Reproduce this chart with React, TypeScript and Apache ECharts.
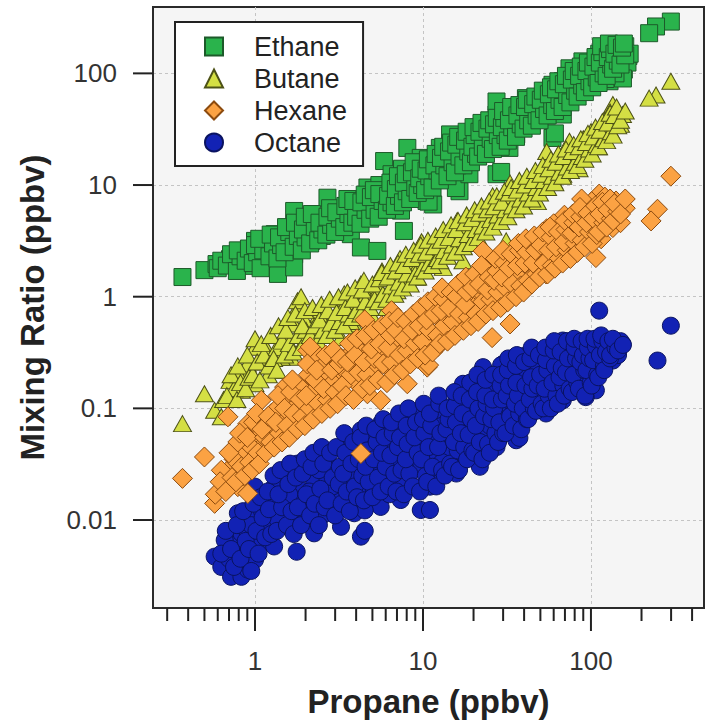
import React, { useEffect, useRef } from 'react';
import * as echarts from 'echarts';

const xMin = 0.247;
const xMax = 471;
const yMin = 0.00163;
const yMax = 393;

const xMajorTicks = [1, 10, 100];
const xMinorTicks = [0.3, 0.4, 0.5, 0.6, 0.7, 0.8, 0.9, 2, 3, 4, 5, 6, 7, 8, 9, 20, 30, 40, 50, 60, 70, 80, 90, 200, 300, 400];
const yMajorTicks = [0.01, 0.1, 1, 10, 100];

const seriesNames = ['Ethane', 'Butane', 'Hexane', 'Octane'];

const ethane = [
  [0.37, 1.5], [0.5, 1.73], [0.59, 1.96], [0.71, 2.17], [0.91, 1.89], [1.0, 3.16], [1.28, 1.96], [1.37, 1.6],
  [1.71, 2.4], [1.71, 4.16], [1.71, 5.86], [1.31, 3.63], [1.71, 1.83], [2.15, 3.16], [2.36, 5.1], [2.83, 4.16],
  [2.7, 7.7], [3.25, 5.47], [3.9, 6.3], [3.72, 3.63], [4.67, 9.5], [4.27, 2.76], [5.35, 2.57], [5.6, 6.3],
  [5.87, 16.4], [6.7, 11.6], [6.1, 7.7], [8.07, 21.5], [8.07, 13.3], [7.7, 3.88], [7.37, 9.5], [9.7, 17.5],
  [10.5, 7.2], [10.5, 10.9],
  [299, 291], [244, 263], [222, 229], [141, 157], [158, 152], [154, 104], [129, 180], [107, 137], [129, 85],
  [74.5, 111], [89, 128], [68, 85], [59, 79], [68, 42.8], [54, 69], [41, 60], [47, 46], [59, 26.4], [34, 46],
  [27.4, 42.8], [27.4, 56], [21.8, 32.5], [19, 26.4], [14.5, 28.4], [17.3, 21.5], [12.6, 21.5], [13.8, 14.3],
  [27.4, 12.5], [16.5, 8.8], [11.5, 6.7], [32.7, 21.5], [35.9, 28.4],
  [7.4, 5.9], [10.8, 7.1], [15.7, 9.4], [18.9, 12.5], [12.2, 12.5], [15.7, 16.6], [22.7, 20], [29.2, 24],
  [29.2, 13.1], [17.7, 26.4], [35, 29], [54.5, 42], [61, 29], [65.7, 61], [84, 81], [122, 89], [138, 130],
  [167, 143], [157, 108],
  [0.8, 2.0], [0.95, 2.4], [1.1, 2.2], [1.2, 2.8], [1.45, 2.6], [1.55, 3.2], [1.9, 3.0], [2.0, 4.5], [2.2, 3.8],
  [2.5, 3.5], [2.6, 4.8], [3.0, 4.5], [3.1, 6.0], [3.5, 5.0], [3.6, 7.0], [4.2, 5.5], [4.5, 7.5], [5.0, 6.5],
  [5.2, 8.5], [5.5, 10], [6.3, 9.0], [6.5, 12.5], [7.0, 10.5], [7.5, 14], [8.5, 11], [9.0, 15], [9.5, 12.5],
  [10, 14], [11, 16], [11, 11], [12, 18], [13, 13], [14, 19], [15, 22], [16, 15], [18, 18], [19, 21], [20, 24],
  [22, 27], [24, 23], [25, 30], [26, 34], [28, 30], [30, 36], [32, 40], [38, 38], [40, 48], [44, 42], [45, 55],
  [50, 52], [52, 62], [58, 56], [63, 70], [66, 50], [72, 78], [78, 88], [82, 70], [90, 100], [95, 115], [100, 95],
  [105, 120], [112, 150], [115, 130], [120, 160], [125, 110], [132, 145], [140, 170], [145, 125], [150, 160],
  [160, 175], [165, 125], [170, 150], [155, 90], [140, 100],
  [0.6, 1.8], [0.63, 2.1], [0.68, 1.9], [0.72, 2.4], [0.78, 1.7], [0.82, 2.3], [0.79, 2.6], [0.88, 2.1], [0.92, 2.7],
  [0.97, 2.0], [1.03, 2.5], [1.0, 2.9], [1.08, 1.8], [1.12, 2.6], [1.06, 3.3], [1.22, 2.3], [1.28, 3.0], [1.24, 3.6],
  [1.36, 2.2], [1.43, 2.9], [1.39, 3.4], [1.5, 2.5], [1.6, 3.8], [1.53, 4.2], [1.7, 2.8], [1.8, 3.5], [1.73, 4.6],
  [1.9, 2.6], [2.0, 3.4], [1.93, 4.0], [1.98, 5.2], [2.13, 3.0], [2.27, 4.2], [2.18, 5.5], [2.38, 3.2], [2.52, 4.0],
  [2.42, 4.6], [2.66, 3.6], [2.84, 4.4], [2.7, 5.2], [2.8, 6.2], [3.0, 3.8], [3.2, 5.0], [3.05, 5.7], [3.4, 4.2],
  [3.6, 5.5], [3.45, 6.5], [3.55, 7.5], [3.8, 4.6], [4.0, 5.2], [3.85, 7.2], [4.25, 4.5], [4.55, 6.0], [4.3, 7.0],
  [4.5, 8.2], [4.85, 5.0], [5.15, 6.0], [4.9, 7.8], [5.1, 9.0], [5.45, 5.2], [5.75, 7.2], [5.5, 8.3], [6.1, 6.0],
  [6.5, 7.0], [6.2, 8.0], [6.4, 10.5], [6.8, 6.5], [7.2, 8.0], [6.9, 9.2], [7.1, 12], [7.6, 7.0], [8.0, 8.8],
  [7.7, 10.5], [7.9, 12.5], [8.4, 7.5], [9.0, 9.5], [8.6, 13], [8.8, 16], [9.3, 8.5], [9.9, 10], [9.5, 11.5],
  [9.7, 14], [10.3, 9.0], [10.9, 12], [10.5, 13.5], [10.7, 17], [11.4, 9.5], [12.2, 13.5], [11.7, 15], [11.9, 19],
  [12.6, 11], [13.4, 15], [12.8, 17.5], [13.2, 22], [14.0, 12], [15.0, 16], [14.3, 20], [14.7, 24], [15.5, 13],
  [16.5, 18], [15.8, 23], [16.2, 27], [17.4, 15], [18.6, 20], [17.8, 25], [18.2, 30], [19.3, 16], [20.7, 19],
  [19.7, 22], [20.3, 28], [20, 33], [21.3, 18], [22.7, 22], [21.7, 30], [22.3, 36], [23.7, 19], [25.3, 26],
  [24.2, 32], [24.8, 38], [26.1, 21], [27.9, 28], [26.5, 35], [27.5, 40], [29, 22], [31, 28], [29.5, 33],
  [30.5, 40], [30, 46], [32, 25], [34, 33], [32.5, 38], [33.5, 50], [35.8, 27], [38.2, 35], [36.5, 42],
  [37.5, 52], [39.7, 32], [42.3, 38], [40.5, 50], [41.5, 58], [44.5, 34], [47.5, 42], [45.3, 53], [46.7, 62],
  [49.4, 38], [52.6, 48], [50.3, 58], [51.7, 70], [55.2, 42], [58.8, 52], [56.2, 65], [57.8, 75], [61, 46],
  [65, 58], [62, 72], [64, 85], [67.8, 50], [72.2, 64], [69, 80], [71, 95], [75.5, 55], [80.5, 70], [77, 88],
  [79, 105], [83.3, 62], [88.7, 78], [85, 95], [87, 115], [92, 68], [98, 85], [94, 105], [96, 125], [101.7, 75],
  [108.3, 92], [103.5, 115], [106.5, 140], [111, 82], [119, 100], [113, 125], [117, 155], [115, 175], [124, 95],
  [132, 120], [126, 140], [130, 165], [128, 185], [135.5, 110], [144.5, 130], [138, 150], [142, 180], [150, 120],
  [160, 145], [153, 170], [157, 185],
];

const butane = [
  [0.37, 0.073], [0.5, 0.135], [0.71, 0.178], [0.575, 0.096], [0.63, 0.084], [1.0, 0.353], [1.19, 0.33],
  [0.91, 0.204], [0.83, 0.145], [1.0, 0.166], [1.3, 0.218], [1.64, 0.287], [1.71, 0.57], [1.79, 0.8], [2.15, 0.5],
  [2.58, 0.61], [3.25, 0.43], [3.9, 0.57], [3.25, 0.8], [4.9, 0.7], [6.1, 0.8], [1.43, 0.287], [1.71, 0.178],
  [1.97, 0.405],
  [1.79, 0.92], [3.4, 1.06], [4.27, 1.3], [5.87, 1.49], [8.07, 2.1], [10.6, 2.76], [9.2, 1.49], [7.0, 1.13],
  [299, 85], [244, 64], [222, 60], [135, 52.7], [154, 42.8], [141, 34.8], [117, 32.5], [102, 24.7], [81.7, 20],
  [68, 17.5], [54, 12.5], [43, 10.9], [35.9, 8.8], [27.4, 6.7], [22.8, 4.77], [19, 3.88], [15.1, 3.63],
  [12.6, 2.76], [31.3, 3.16], [17.3, 2.1], [13.2, 1.83], [34.4, 6.7], [47, 7.2], [74.5, 24.7], [68, 12.5],
  [1.88, 1.0], [5.1, 1.09], [10.1, 2.31], [15.7, 3.36], [21.4, 5.37], [33, 10.4], [54.5, 20], [48, 7.1],
  [0.65, 0.12], [0.75, 0.15], [0.8, 0.2], [0.9, 0.25], [1.1, 0.26], [1.2, 0.2], [1.35, 0.35], [1.5, 0.42],
  [1.6, 0.33], [2.0, 0.6], [2.2, 0.4], [2.4, 0.7], [2.8, 0.5], [3.0, 0.68], [3.5, 0.9], [3.7, 0.6], [4.2, 0.85],
  [4.6, 1.05], [5.5, 1.2], [6.5, 1.1], [7.5, 1.5], [8.5, 1.8], [9.5, 2.0], [11, 2.3], [12, 3.2], [13.5, 2.5],
  [14, 3.8], [16, 3.0], [18, 4.3], [20, 3.5], [21, 4.5], [24, 5.8], [25, 4.6], [28, 5.5], [30, 7.5], [33, 8.0],
  [36, 6.5], [38, 10], [42, 9], [45, 12], [50, 10], [52, 14], [58, 15], [60, 11], [63, 18], [70, 15], [75, 20],
  [80, 18], [88, 22], [90, 26], [95, 20], [110, 28], [120, 38], [125, 30], [130, 45], [145, 40], [150, 35],
  [100, 30], [110, 22], [85, 14], [26, 8], [16, 4.8], [9.8, 3.1], [7.3, 2.2], [5.7, 1.7],
  [0.68, 0.13], [0.72, 0.2], [0.78, 0.12], [0.82, 0.17], [0.79, 0.24], [0.88, 0.15], [0.92, 0.19], [0.9, 0.3],
  [0.97, 0.2], [1.03, 0.26], [1.0, 0.42], [1.07, 0.18], [1.13, 0.3], [1.09, 0.38], [1.21, 0.24], [1.29, 0.28],
  [1.24, 0.45], [1.35, 0.22], [1.45, 0.4], [1.38, 0.55], [1.5, 0.3], [1.6, 0.38], [1.53, 0.5], [1.57, 0.65],
  [1.69, 0.32], [1.81, 0.45], [1.74, 0.7], [1.89, 0.35], [2.01, 0.5], [1.92, 0.55], [1.98, 0.75], [2.13, 0.45],
  [2.27, 0.55], [2.2, 0.8], [2.37, 0.4], [2.53, 0.5], [2.42, 0.62], [2.48, 0.85], [2.66, 0.45], [2.84, 0.58],
  [2.72, 0.75], [2.78, 0.95], [3.0, 0.5], [3.2, 0.6], [3.06, 0.72], [3.14, 1.0], [3.39, 0.55], [3.61, 0.7],
  [3.45, 0.8], [3.55, 1.1], [3.78, 0.65], [4.02, 0.75], [3.85, 0.95], [3.95, 1.2], [4.26, 0.7], [4.54, 0.9],
  [4.35, 1.15], [4.45, 1.4], [4.85, 0.8], [5.15, 0.95], [5.0, 1.3], [5.43, 0.9], [5.77, 1.05], [5.52, 1.45],
  [5.68, 1.65], [6.1, 0.95], [6.5, 1.25], [6.2, 1.5], [6.4, 1.9], [6.8, 1.05], [7.2, 1.35], [6.9, 1.7], [7.1, 2.0],
  [7.55, 1.2], [8.05, 1.6], [7.7, 1.9], [7.9, 2.4], [8.4, 1.3], [9.0, 1.6], [8.6, 2.2], [8.8, 2.6], [9.3, 1.5],
  [9.9, 1.8], [9.5, 2.4], [9.7, 2.9], [10.3, 1.7], [10.9, 2.0], [10.5, 2.5], [10.7, 3.2], [11.4, 1.9], [12.2, 2.2],
  [11.7, 2.8], [11.9, 3.5], [12.6, 2.1], [13.4, 2.6], [12.8, 3.2], [13.2, 4.0], [14.0, 2.3], [15.0, 2.9],
  [14.3, 3.4], [14.7, 4.4], [15.5, 2.5], [16.5, 3.3], [15.8, 4.0], [16.2, 4.8], [17.4, 2.8], [18.6, 3.6],
  [17.8, 4.6], [18.2, 5.4], [19.3, 3.0], [20.7, 4.0], [19.7, 5.0], [20.3, 6.0], [21.3, 3.4], [22.7, 4.3],
  [21.7, 5.6], [22.3, 6.5], [23.7, 3.8], [25.3, 4.9], [24.2, 6.0], [24.8, 7.2], [26.1, 4.2], [27.9, 5.4],
  [26.5, 6.4], [27.5, 8.0], [29, 4.7], [31, 6.0], [29.5, 7.0], [30.5, 8.8], [32, 5.2], [34, 6.5], [32.5, 8.5],
  [33.5, 9.5], [35.8, 6.0], [38.2, 7.5], [36.5, 9.0], [37.5, 11], [39.7, 6.5], [42.3, 8.5], [40.5, 10],
  [41.5, 12], [44.5, 7.5], [47.5, 9.5], [45.3, 11], [46.7, 13.5], [49.4, 8.5], [52.6, 11], [50.3, 12.5],
  [51.7, 15], [55.2, 9.5], [58.8, 12], [56.2, 14], [57.8, 17], [61, 10.5], [65, 13], [62, 16], [64, 19],
  [67.8, 12], [72.2, 14.5], [69, 18], [71, 21], [75.5, 13.5], [80.5, 16], [77, 20], [79, 23], [83.3, 15],
  [88.7, 18], [85, 22], [87, 26], [92, 17], [98, 21], [94, 24], [96, 29], [101.7, 19], [108.3, 23], [103.5, 27],
  [106.5, 33], [111, 22], [119, 26], [113, 31], [117, 37], [124, 25], [132, 30], [126, 36], [130, 44],
  [135.5, 28], [144.5, 34], [138, 42], [142, 50], [150, 38], [160, 46],
];

const hexane = [
  [0.37, 0.0236], [0.5, 0.0367], [0.575, 0.0141], [0.69, 0.084], [0.69, 0.0279], [0.79, 0.0199], [0.906, 0.0173],
  [0.866, 0.0394], [1.0, 0.0594], [1.09, 0.118], [1.14, 0.0484], [1.3, 0.0484], [1.43, 0.0636], [1.57, 0.126],
  [1.71, 0.068], [1.5, 0.155], [2.06, 0.33], [2.25, 0.096], [2.15, 0.19], [2.7, 0.204], [3.25, 0.126],
  [3.9, 0.234], [4.27, 0.0394], [4.67, 0.135], [5.6, 0.118], [6.1, 0.5], [7.37, 0.25], [9.7, 0.46], [8.07, 0.166],
  [10.6, 0.234], [4.67, 0.33], [3.25, 0.19], [2.47, 0.135], [1.25, 0.09], [0.906, 0.073], [0.63, 0.0279],
  [299, 12.0], [249, 6.07], [228, 4.77], [154, 6.5], [141, 7.2], [112, 8.3], [135, 4.16], [93, 5.86], [74.5, 3.88],
  [81.7, 2.76], [107, 2.24], [51.5, 2.57], [22.8, 2.57], [43, 1.83], [35.9, 1.21], [27.4, 1.49], [19.9, 1.3],
  [14.4, 0.92], [54, 1.6], [68, 3.63],
  [33, 0.57], [25.8, 0.43], [10.8, 0.244], [7.4, 0.268], [15.7, 0.62], [20.1, 1.0], [22.7, 1.59], [39.6, 2.31],
  [54.5, 4.06], [69.5, 5.37], [101, 7.1], [121, 7.8], [12.2, 0.355], [13.8, 0.52], [8.4, 0.43], [6.5, 0.75],
  [4.5, 0.62], [3.97, 0.355], [2.41, 0.294], [2.13, 0.355],
  [0.75, 0.035], [0.85, 0.025], [0.95, 0.045], [1.05, 0.035], [1.2, 0.07], [1.35, 0.1], [1.6, 0.085], [1.8, 0.11],
  [1.9, 0.15], [2.0, 0.075], [2.3, 0.15], [2.6, 0.25], [2.9, 0.17], [3.0, 0.28], [3.4, 0.22], [3.6, 0.3],
  [4.0, 0.17], [4.2, 0.26], [5.0, 0.22], [5.2, 0.4], [5.8, 0.3], [6.5, 0.22], [7.0, 0.38], [8.0, 0.35], [8.8, 0.55],
  [9.5, 0.3], [10, 0.7], [11, 0.4], [12, 0.8], [13, 0.6], [14, 0.45], [16, 0.9], [17, 0.55], [18, 1.2], [20, 0.8],
  [22, 1.1], [24, 1.8], [26, 1.3], [28, 2.0], [30, 1.0], [31, 1.6], [34, 2.2], [37, 1.5], [40, 3.0], [44, 2.2],
  [48, 2.8], [50, 3.4], [56, 3.0], [60, 4.5], [62, 2.3], [72, 4.4], [78, 3.3], [85, 4.8], [90, 3.6], [98, 5.2],
  [104, 4.2], [110, 6.0], [118, 5.2], [125, 6.8], [130, 5.6], [145, 5.2], [150, 4.6], [160, 6.2], [88, 7.5],
  [115, 3.3],
  [0.58, 0.017], [0.62, 0.022], [0.67, 0.018], [0.73, 0.024], [0.7, 0.04], [0.77, 0.022], [0.83, 0.03], [0.79, 0.05],
  [0.81, 0.06], [0.87, 0.025], [0.93, 0.033], [0.9, 0.055], [0.96, 0.028], [1.04, 0.04], [0.98, 0.075],
  [1.02, 0.09], [1.06, 0.032], [1.14, 0.055], [1.1, 0.065], [1.16, 0.04], [1.24, 0.05], [1.2, 0.085], [1.3, 0.045],
  [1.4, 0.06], [1.33, 0.075], [1.37, 0.13], [1.45, 0.05], [1.55, 0.07], [1.5, 0.1], [1.6, 0.055], [1.7, 0.09],
  [1.63, 0.14], [1.67, 0.18], [1.79, 0.065], [1.91, 0.085], [1.85, 0.12], [1.98, 0.07], [2.12, 0.1], [2.02, 0.13],
  [2.08, 0.2], [2.05, 0.25], [2.22, 0.08], [2.38, 0.11], [2.27, 0.18], [2.33, 0.22], [2.5, 0.09], [2.7, 0.12],
  [2.56, 0.15], [2.64, 0.3], [2.8, 0.1], [3.0, 0.14], [2.86, 0.22], [2.94, 0.33], [3.1, 0.11], [3.3, 0.16],
  [3.16, 0.25], [3.24, 0.28], [3.48, 0.13], [3.72, 0.2], [3.55, 0.26], [3.65, 0.38], [3.86, 0.12], [4.14, 0.21],
  [3.95, 0.3], [4.05, 0.42], [4.35, 0.15], [4.65, 0.2], [4.45, 0.26], [4.55, 0.45], [4.83, 0.16], [5.17, 0.28],
  [4.93, 0.34], [5.07, 0.5], [5.4, 0.18], [5.8, 0.25], [5.52, 0.38], [5.68, 0.55], [6.1, 0.17], [6.5, 0.26],
  [6.2, 0.35], [6.4, 0.45], [6.3, 0.6], [6.75, 0.2], [7.25, 0.3], [6.9, 0.5], [7.1, 0.65], [7.55, 0.22],
  [8.05, 0.33], [7.7, 0.42], [7.9, 0.6], [8.4, 0.25], [9.0, 0.38], [8.6, 0.5], [8.8, 0.7], [9.3, 0.28], [9.9, 0.4],
  [9.5, 0.55], [9.7, 0.8], [10.3, 0.3], [10.9, 0.5], [10.5, 0.62], [10.7, 0.9], [11.4, 0.32], [12.2, 0.45],
  [11.7, 0.7], [11.9, 1.0], [12.6, 0.38], [13.4, 0.55], [12.8, 0.75], [13.2, 0.95], [13, 1.2], [14.0, 0.4],
  [15.0, 0.6], [14.3, 0.8], [14.7, 1.1], [15.5, 0.45], [16.5, 0.7], [15.8, 1.0], [16.2, 1.3], [17.4, 0.5],
  [18.6, 0.65], [17.8, 0.85], [18.2, 1.1], [18, 1.5], [19.3, 0.55], [20.7, 0.7], [19.7, 1.2], [20.3, 1.6],
  [21.3, 0.6], [22.7, 0.9], [21.7, 1.3], [22.3, 1.9], [23.7, 0.7], [25.3, 0.95], [24.2, 1.15], [24.8, 1.5],
  [26.1, 0.75], [27.9, 1.1], [26.5, 1.4], [27.5, 1.7], [27, 2.2], [29, 0.8], [31, 1.2], [29.5, 1.5], [30.5, 2.0],
  [30, 2.6], [32, 0.9], [34, 1.3], [32.5, 1.8], [33.5, 2.4], [35.8, 1.0], [38.2, 1.25], [36.5, 1.9], [37.5, 2.6],
  [37, 3.0], [39.7, 1.1], [42.3, 1.4], [40.5, 2.0], [41.5, 2.5], [41, 3.3], [44.5, 1.3], [47.5, 1.6], [45.3, 2.0],
  [46.7, 2.6], [46, 3.5], [49.4, 1.5], [52.6, 2.0], [50.3, 2.9], [51.7, 3.8], [55.2, 1.6], [58.8, 1.9],
  [56.2, 2.6], [57.8, 3.4], [57, 4.2], [61, 1.8], [65, 2.2], [62, 2.8], [64, 3.8], [67.8, 2.0], [72.2, 2.6],
  [69, 3.1], [71, 4.0], [70, 4.8], [75.5, 2.2], [80.5, 3.0], [77, 3.7], [79, 4.6], [78, 5.5], [83.3, 2.5],
  [88.7, 3.2], [85, 4.2], [87, 5.2], [86, 6.3], [92, 2.8], [98, 3.8], [94, 4.6], [96, 5.6], [101.7, 3.0],
  [108.3, 3.6], [103.5, 5.0], [106.5, 6.5], [111, 3.8], [119, 4.6], [113, 5.5], [117, 7.0], [124, 4.2],
  [132, 5.0], [126, 6.0], [130, 7.5], [135.5, 4.8], [144.5, 5.8], [138, 6.8], [150, 5.5], [160, 7.5],
];

const octane = [
  [0.575, 0.0047], [0.63, 0.0038], [0.72, 0.0031], [0.83, 0.0031], [0.906, 0.0036], [0.72, 0.0062], [0.83, 0.0076],
  [1.0, 0.0107], [1.14, 0.0141], [1.19, 0.0087], [1.3, 0.0199], [1.57, 0.0261], [1.79, 0.0199],
  [1.79, 0.032], [2.06, 0.0115], [2.36, 0.0161], [2.7, 0.0367], [2.83, 0.0115], [3.55, 0.0518], [3.25, 0.0228],
  [4.27, 0.0071], [4.27, 0.0199], [4.9, 0.0367], [4.9, 0.0554], [5.6, 0.0261], [6.1, 0.068], [6.7, 0.0394],
  [8.07, 0.0228], [9.7, 0.0123], [9.7, 0.0594], [8.8, 0.084], [10.6, 0.0343], [1.5, 0.0141], [1.0, 0.0199],
  [0.79, 0.0115], [0.66, 0.0066], [1.37, 0.01], [1.79, 0.01], [2.25, 0.0076], [2.47, 0.0107], [3.25, 0.0131],
  [3.9, 0.0115], [5.6, 0.0131], [6.1, 0.0199], [7.37, 0.0151], [8.07, 0.0394], [4.27, 0.045], [3.1, 0.0161],
  [2.25, 0.0213], [2.7, 0.0228], [1.88, 0.0141], [1.25, 0.0161], [0.906, 0.0076], [1.09, 0.0062], [1.0, 0.0044],
  [0.755, 0.0047], [1.3, 0.0058], [4.27, 0.0636], [5.6, 0.073], [7.37, 0.068], [6.7, 0.0228], [3.9, 0.0261],
  [5.1, 0.0185], [3.25, 0.0087],
  [112, 0.75], [299, 0.55], [249, 0.268], [154, 0.378], [129, 0.405], [107, 0.33], [85, 0.378], [68, 0.405],
  [47, 0.33], [107, 0.145], [93, 0.126], [68, 0.118], [54, 0.09], [35.9, 0.0518], [27.4, 0.045], [21.8, 0.03],
  [15.8, 0.0261], [11, 0.0199], [11, 0.0123], [22.8, 0.234], [30, 0.25], [35.9, 0.19], [43, 0.234], [62, 0.166],
  [74.5, 0.234], [17.3, 0.118], [13.8, 0.084], [20.8, 0.068], [27.4, 0.103], [43, 0.118], [34.4, 0.084],
  [16.5, 0.0484], [12.1, 0.042], [54, 0.19], [85, 0.19], [135, 0.268], [27.4, 0.155], [17.3, 0.166],
  [15.7, 0.06], [21.4, 0.153], [29.2, 0.244], [12.2, 0.095], [15.7, 0.115], [29.2, 0.095], [37.5, 0.0544],
  [39.8, 0.294], [24.2, 0.066], [17.7, 0.0374], [12.2, 0.0374], [8.4, 0.0411], [7.4, 0.0234], [5.8, 0.0258],
  [4.5, 0.0122], [4.5, 0.008], [1.77, 0.0052],
  [9, 0.03], [10, 0.045], [11, 0.06], [12, 0.05], [13, 0.07], [14, 0.04], [15, 0.09], [16, 0.07], [18, 0.05],
  [19, 0.1], [20, 0.085], [22, 0.12], [23, 0.06], [24, 0.1], [26, 0.13], [28, 0.08], [30, 0.14], [32, 0.11],
  [33, 0.18], [36, 0.15], [38, 0.12], [40, 0.2], [45, 0.17], [48, 0.26], [50, 0.14], [55, 0.25], [58, 0.3],
  [60, 0.2], [65, 0.28], [70, 0.35], [72, 0.18], [78, 0.3], [80, 0.24], [90, 0.32], [95, 0.25], [100, 0.38],
  [110, 0.3], [115, 0.38], [120, 0.34], [140, 0.36], [145, 0.3], [150, 0.4], [6, 0.045], [7, 0.05], [7.5, 0.035],
  [8, 0.06], [6.5, 0.03], [5, 0.045], [5.5, 0.02], [3.6, 0.035], [3, 0.028], [2.4, 0.028], [2.1, 0.018],
  [1.6, 0.017], [1.4, 0.023], [1.1, 0.012], [0.95, 0.009], [0.85, 0.0055], [0.7, 0.0045], [2.9, 0.02],
  [3.7, 0.0165], [4.8, 0.028], [6.3, 0.017], [7.8, 0.03], [8.5, 0.05], [11.5, 0.027], [13, 0.033], [14.5, 0.055],
  [18.5, 0.075], [25, 0.07], [26, 0.16], [31, 0.065], [35, 0.1], [40, 0.13], [42, 0.09], [46, 0.22], [52, 0.12],
  [62, 0.21], [66, 0.14], [75, 0.26], [88, 0.2], [98, 0.18], [104, 0.22],
  [0.63, 0.005], [0.67, 0.008], [0.72, 0.0055], [0.78, 0.009], [0.75, 0.0038], [0.82, 0.0045], [0.88, 0.0065],
  [0.85, 0.012], [0.92, 0.0055], [0.98, 0.014], [0.95, 0.0035], [1.02, 0.008], [1.08, 0.016], [1.05, 0.005],
  [1.11, 0.0105], [1.19, 0.018], [1.15, 0.007], [1.21, 0.0125], [1.29, 0.025], [1.25, 0.0075], [1.35, 0.008],
  [1.45, 0.013], [1.38, 0.017], [1.42, 0.028], [1.55, 0.009], [1.65, 0.012], [1.58, 0.021], [1.62, 0.032],
  [1.7, 0.0075], [1.8, 0.013], [1.75, 0.024], [1.88, 0.009], [2.02, 0.017], [1.92, 0.026], [1.98, 0.035],
  [2.13, 0.011], [2.27, 0.014], [2.17, 0.03], [2.23, 0.04], [2.4, 0.009], [2.6, 0.013], [2.45, 0.019],
  [2.55, 0.032], [2.5, 0.045], [2.7, 0.015], [2.9, 0.024], [2.8, 0.04], [3.0, 0.011], [3.2, 0.03], [3.05, 0.045],
  [3.15, 0.021], [3.28, 0.014], [3.52, 0.018], [3.35, 0.026], [3.45, 0.04], [3.4, 0.06], [3.67, 0.012],
  [3.93, 0.02], [3.75, 0.032], [3.85, 0.05], [4.05, 0.016], [4.35, 0.025], [4.15, 0.035], [4.25, 0.055],
  [4.45, 0.015], [4.75, 0.022], [4.55, 0.03], [4.65, 0.042], [4.6, 0.07], [5.0, 0.016], [5.4, 0.024],
  [5.1, 0.035], [5.3, 0.05], [5.2, 0.065], [5.6, 0.018], [6.0, 0.03], [5.7, 0.04], [5.9, 0.055], [5.8, 0.08],
  [6.25, 0.02], [6.75, 0.026], [6.4, 0.038], [6.6, 0.06], [6.5, 0.075], [6.95, 0.018], [7.45, 0.028],
  [7.1, 0.045], [7.3, 0.055], [7.2, 0.09], [7.7, 0.017], [8.3, 0.026], [7.9, 0.035], [8.1, 0.048], [8.0, 0.07],
  [8.2, 0.1], [8.7, 0.02], [9.3, 0.04], [8.9, 0.055], [9.1, 0.075], [9.6, 0.018], [10.4, 0.025], [9.8, 0.035],
  [10.2, 0.06], [10.0, 0.08], [10.1, 0.11], [10.6, 0.022], [11.4, 0.03], [10.8, 0.045], [11.2, 0.07], [11.0, 0.09],
  [12.0, 0.02], [13.0, 0.028], [12.3, 0.045], [12.7, 0.06], [12.5, 0.11], [12.4, 0.13], [13.5, 0.025],
  [14.5, 0.032], [13.8, 0.065], [14.2, 0.08], [14.0, 0.1], [14.9, 0.03], [16.1, 0.042], [15.3, 0.05],
  [15.7, 0.075], [15.5, 0.105], [15.4, 0.14], [16.4, 0.028], [17.6, 0.045], [16.8, 0.06], [17.2, 0.09],
  [17.0, 0.13], [18.3, 0.035], [19.7, 0.042], [18.7, 0.058], [19.3, 0.08], [19.0, 0.12], [19.1, 0.17],
  [20.2, 0.04], [21.8, 0.05], [20.6, 0.07], [21.4, 0.1], [21.0, 0.14], [21.1, 0.2], [22.6, 0.035], [24.4, 0.048],
  [23.1, 0.085], [23.9, 0.11], [23.5, 0.13], [23.6, 0.18], [25, 0.04], [27, 0.06], [25.5, 0.08], [26.5, 0.1],
  [26, 0.12], [26.2, 0.2], [28, 0.05], [30, 0.06], [28.5, 0.075], [29.5, 0.12], [29, 0.16], [29.2, 0.2],
  [31, 0.06], [33, 0.085], [31.5, 0.13], [32.5, 0.16], [32, 0.22], [32.2, 0.28], [34.6, 0.07], [37.4, 0.09],
  [35.3, 0.11], [36.7, 0.13], [36, 0.17], [35.8, 0.24], [36.2, 0.3], [38.5, 0.065], [41.5, 0.08], [39.3, 0.1],
  [40.7, 0.16], [40, 0.26], [42.3, 0.08], [45.7, 0.1], [43.2, 0.12], [44.8, 0.15], [44, 0.19], [43.6, 0.28],
  [44.4, 0.35], [47.1, 0.095], [50.9, 0.11], [48.2, 0.16], [49.8, 0.2], [49, 0.3], [52, 0.1], [56, 0.13],
  [53, 0.15], [55, 0.22], [54, 0.27], [53.5, 0.35], [57.7, 0.1], [62.3, 0.13], [59, 0.17], [61, 0.24], [60, 0.33],
  [60.5, 0.4], [63.5, 0.11], [68.5, 0.16], [65, 0.19], [67, 0.23], [66, 0.32], [69.3, 0.13], [74.7, 0.15],
  [71, 0.21], [73, 0.28], [72, 0.4], [77, 0.14], [83, 0.17], [78.5, 0.2], [81.5, 0.28], [80, 0.35], [79.5, 0.42],
  [84.7, 0.15], [91.3, 0.22], [86.5, 0.26], [89.5, 0.3], [88, 0.4], [92.3, 0.13], [99.7, 0.17], [94, 0.22],
  [98, 0.28], [96, 0.35], [95.5, 0.42], [101, 0.16], [109, 0.2], [103, 0.27], [107, 0.36], [105, 0.42],
  [110.6, 0.19], [119.4, 0.24], [113, 0.3], [117, 0.4], [115, 0.45], [120, 0.22], [130, 0.28], [123, 0.32],
  [127, 0.4], [130, 0.3], [140, 0.35], [135, 0.42], [145, 0.33], [155, 0.37],
];

const FONT = '"Liberation Sans", Arial, sans-serif';
const INK = '#222';

function isDecade(v: number) {
  const l = Math.log10(v);
  return Math.abs(l - Math.round(l)) < 1e-6;
}
function fmt(v: number) {
  if (!isDecade(v)) return '';
  return v >= 1 ? String(Math.round(v)) : String(Number(v.toPrecision(2)));
}

export default function App() {
  const ref = useRef<HTMLDivElement>(null);
  useEffect(() => {
    const chart = echarts.init(ref.current!, null, { renderer: 'svg' });
    const xTickData = [
      ...xMajorTicks.map((v) => [v, yMin, 23]),
      ...xMinorTicks.map((v) => [v, yMin, 13]),
    ];
    const yTickData = yMajorTicks.map((v) => [xMin, v, 20]);
    const scatter = (name: string, data: number[][], symbol: string, size: any, fill: string, stroke: string) => ({
      name,
      type: 'scatter',
      data,
      symbol,
      symbolSize: size,
      large: false,
      itemStyle: { color: fill, borderColor: stroke, borderWidth: 1, opacity: 1 },
      emphasis: { disabled: true },
      silent: true,
    });
    chart.setOption({
      animation: false,
      backgroundColor: '#ffffff',
      textStyle: { fontFamily: FONT },
      grid: {
        left: 153,
        top: 7,
        width: 551,
        height: 601,
        show: true,
        backgroundColor: '#f5f5f5',
        borderColor: '#2a2a2a',
        borderWidth: 2,
      },
      legend: {
        data: seriesNames,
        orient: 'vertical',
        left: 175,
        top: 22,
        padding: [11, 16, 10, 29],
        itemWidth: 18,
        itemHeight: 18,
        itemGap: 5,
        backgroundColor: '#ffffff',
        borderColor: INK,
        borderWidth: 2,
        borderRadius: 0,
        selectedMode: false,
        textStyle: { fontFamily: FONT, fontSize: 27, color: INK, padding: [0, 0, 0, 26] },
      },
      xAxis: {
        type: 'log',
        logBase: 10,
        min: xMin,
        max: xMax,
        name: 'Propane (ppbv)',
        nameLocation: 'middle',
        nameGap: 77,
        nameTextStyle: { fontFamily: FONT, fontSize: 33, fontWeight: 'bold', color: INK },
        axisLine: { show: true, lineStyle: { color: '#2a2a2a', width: 2 } },
        axisTick: { show: false },
        axisLabel: {
          formatter: fmt,
          margin: 40,
          fontSize: 26,
          color: '#333',
          fontFamily: FONT,
          showMinLabel: false,
          showMaxLabel: false,
        },
        splitLine: {
          show: true,
          showMinLine: false,
          showMaxLine: false,
          lineStyle: { color: '#c4c4c4', type: [3, 3], width: 1 },
        },
      },
      yAxis: {
        type: 'log',
        logBase: 10,
        min: yMin,
        max: yMax,
        name: 'Mixing Ratio (ppbv)',
        nameLocation: 'middle',
        nameGap: 104,
        nameTextStyle: { fontFamily: FONT, fontSize: 33, fontWeight: 'bold', color: INK },
        axisLine: { show: true, lineStyle: { color: '#2a2a2a', width: 2 } },
        axisTick: { show: false },
        axisLabel: {
          formatter: fmt,
          margin: 36,
          fontSize: 26,
          color: '#333',
          fontFamily: FONT,
          showMinLabel: false,
          showMaxLabel: false,
        },
        splitLine: {
          show: true,
          showMinLine: false,
          showMaxLine: false,
          lineStyle: { color: '#c4c4c4', type: [3, 3], width: 1 },
        },
      },
      series: [
        scatter('Ethane', ethane, 'rect', 17, '#2ab34c', '#1d5a2a'),
        scatter('Butane', butane, 'triangle', [18, 16], '#d4df44', '#4d5217'),
        scatter('Octane', octane, 'circle', 17, '#1222b4', '#0a1360'),
        scatter('Hexane', hexane, 'diamond', 20, '#fba243', '#8c4b0f'),
        {
          name: 'xTicks',
          type: 'custom',
          data: xTickData,
          silent: true,
          clip: false,
          z: 5,
          renderItem: (_p: any, api: any) => {
            const pt = api.coord([api.value(0), api.value(1)]);
            const len = api.value(2);
            return {
              type: 'line',
              shape: { x1: pt[0], y1: pt[1], x2: pt[0], y2: pt[1] + len },
              style: { stroke: INK, lineWidth: 2 },
            };
          },
        },
        {
          name: 'yTicks',
          type: 'custom',
          data: yTickData,
          silent: true,
          clip: false,
          z: 5,
          renderItem: (_p: any, api: any) => {
            const pt = api.coord([api.value(0), api.value(1)]);
            const len = api.value(2);
            return {
              type: 'line',
              shape: { x1: pt[0], y1: pt[1], x2: pt[0] - len, y2: pt[1] },
              style: { stroke: INK, lineWidth: 2 },
            };
          },
        },
      ],
    });
    return () => chart.dispose();
  }, []);
  return (
    <div
      ref={ref}
      style={{ position: 'fixed', left: 0, top: 0, width: 711, height: 724, background: '#fff' }}
    />
  );
}
